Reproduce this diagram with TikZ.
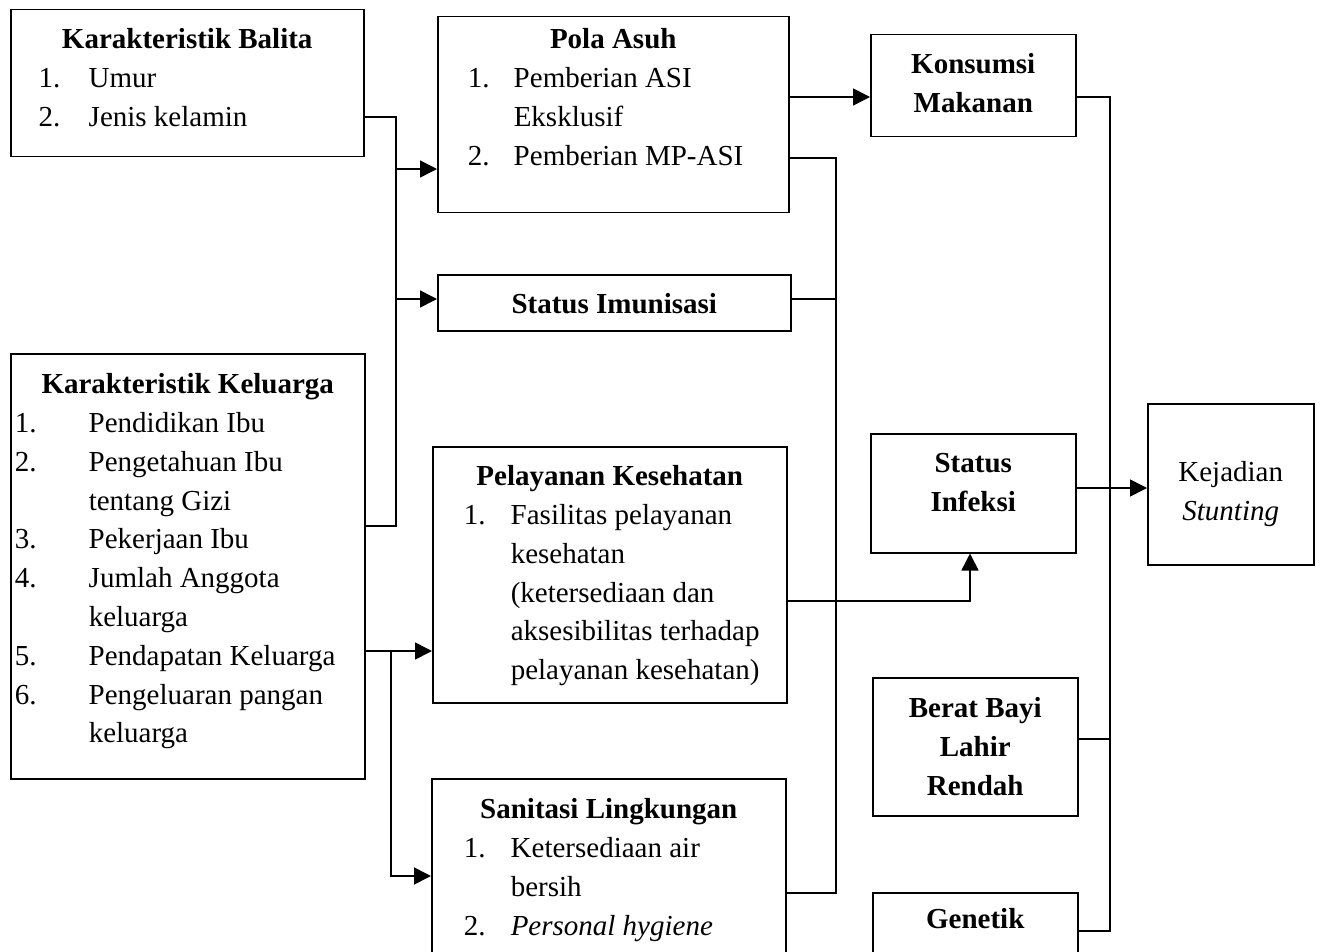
\documentclass[tikz,border=0pt]{standalone}
\usepackage{fontspec}
\setmainfont{Liberation Serif}
\usepackage{tikz}
\usetikzlibrary{arrows.meta}

% box contents: width, height, first baseline, text
\newcommand{\isi}[4]{\parbox[t][#2][t]{#1}{\rule{0pt}{#3}#4}}
\newcommand{\daftar}[3]{\par\raggedright\hspace*{#1}\begin{tabular}[t]{@{}p{#2}@{}l@{}}#3\end{tabular}}

\begin{document}
\begin{tikzpicture}[x=1pt,y=-1pt,
  kotak/.style={draw,line width=1.5pt,anchor=north west,inner sep=0pt,
    font=\fontsize{29}{38.8}\selectfont},
  garis/.style={line width=1.6pt},
  panah/.style={line width=1.6pt,-{Triangle[length=17pt,width=17pt]}}]
\useasboundingbox (0,0) rectangle (1322,952);
\fill[white] (0,0) rectangle (1322,952);

% left column
\node[kotak] (balita) at (10,9) {\isi{353pt}{147pt}{39pt}{\centering\textbf{Karakteristik Balita}
  \daftar{28pt}{50pt}{1.&Umur\\2.&Jenis kelamin}}};
\node[kotak] (keluarga) at (10,353) {\isi{354pt}{425pt}{40pt}{\centering\textbf{Karakteristik Keluarga}
  \daftar{4pt}{74pt}{1.&Pendidikan Ibu\\2.&Pengetahuan Ibu\\&tentang Gizi\\3.&Pekerjaan Ibu\\
  4.&Jumlah Anggota\\&keluarga\\5.&Pendapatan Keluarga\\6.&Pengeluaran pangan\\&keluarga}}};

% middle column
\node[kotak] (pola) at (437,16) {\isi{351pt}{196pt}{32pt}{\centering\textbf{Pola Asuh}
  \daftar{30pt}{46pt}{1.&Pemberian ASI\\&Eksklusif\\2.&Pemberian MP-ASI}}};
\node[kotak] (imun) at (437,274) {\isi{353pt}{56pt}{39pt}{\centering\textbf{Status Imunisasi}}};
\node[kotak] (pelayanan) at (432,446) {\isi{354pt}{256pt}{39pt}{\centering\textbf{Pelayanan Kesehatan}
  \daftar{31pt}{47pt}{1.&Fasilitas pelayanan\\&kesehatan\\&(ketersediaan dan\\
  &aksesibilitas terhadap\\&pelayanan kesehatan)}}};
\node[kotak] (sanitasi) at (431,778) {\isi{354pt}{230pt}{40pt}{\centering\textbf{Sanitasi Lingkungan}
  \daftar{32pt}{47pt}{1.&Ketersediaan air\\&bersih\\2.&\textit{Personal hygiene}}}};

% right column
\node[kotak] (konsumsi) at (870,34) {\isi{205pt}{102pt}{39pt}{\centering\textbf{Konsumsi\\Makanan}}};
\node[kotak] (infeksi) at (870,433) {\isi{205pt}{119pt}{39pt}{\centering\textbf{Status\\Infeksi}}};
\node[kotak] (berat) at (872,677) {\isi{205pt}{138pt}{40pt}{\centering\textbf{Berat Bayi\\Lahir\\Rendah}}};
\node[kotak] (genetik) at (872,892) {\isi{205pt}{100pt}{36pt}{\centering\textbf{Genetik}}};
\node[kotak] (kejadian) at (1147,403) {\isi{166pt}{161pt}{78pt}{\centering Kejadian\\\textit{Stunting}}};

% junctions
\coordinate (j1) at (396,117);
\coordinate (j2) at (396,526);
\coordinate (a1) at (396,169);
\coordinate (a2) at (396,299);
\coordinate (c1) at (391,651);
\coordinate (c2) at (391,876);
\coordinate (k1) at (788,97);
\coordinate (b1) at (836,158);
\coordinate (b2) at (836,893);
\coordinate (b3) at (836,299);
\coordinate (p1) at (970,601);
\coordinate (d1) at (1110,97);
\coordinate (d2) at (1110,931);
\coordinate (d3) at (1110,739);
\coordinate (d4) at (1110,488);

\draw[garis] (balita.east |- j1) -- (j1) -- (j2) -- (keluarga.east |- j2);
\draw[panah] (a1) -- (pola.west |- a1);
\draw[panah] (a2) -- (imun.west |- a2);
\draw[panah] (keluarga.east |- c1) -- (pelayanan.west |- c1);
\draw[panah] (c1) |- (sanitasi.west |- c2);

\draw[panah] (pola.east |- k1) -- (konsumsi.west |- k1);
\draw[garis] (pola.east |- b1) -| (b2) -- (sanitasi.east |- b2);
\draw[garis] (imun.east |- b3) -- (b3);
\draw[panah] (pelayanan.east |- p1) -| (infeksi.south -| p1);

\draw[garis] (konsumsi.east |- d1) -| (d2) -- (genetik.east |- d2);
\draw[garis] (berat.east |- d3) -- (d3);
\draw[panah] (infeksi.east |- d4) -- (kejadian.west |- d4);
\end{tikzpicture}
\end{document}
